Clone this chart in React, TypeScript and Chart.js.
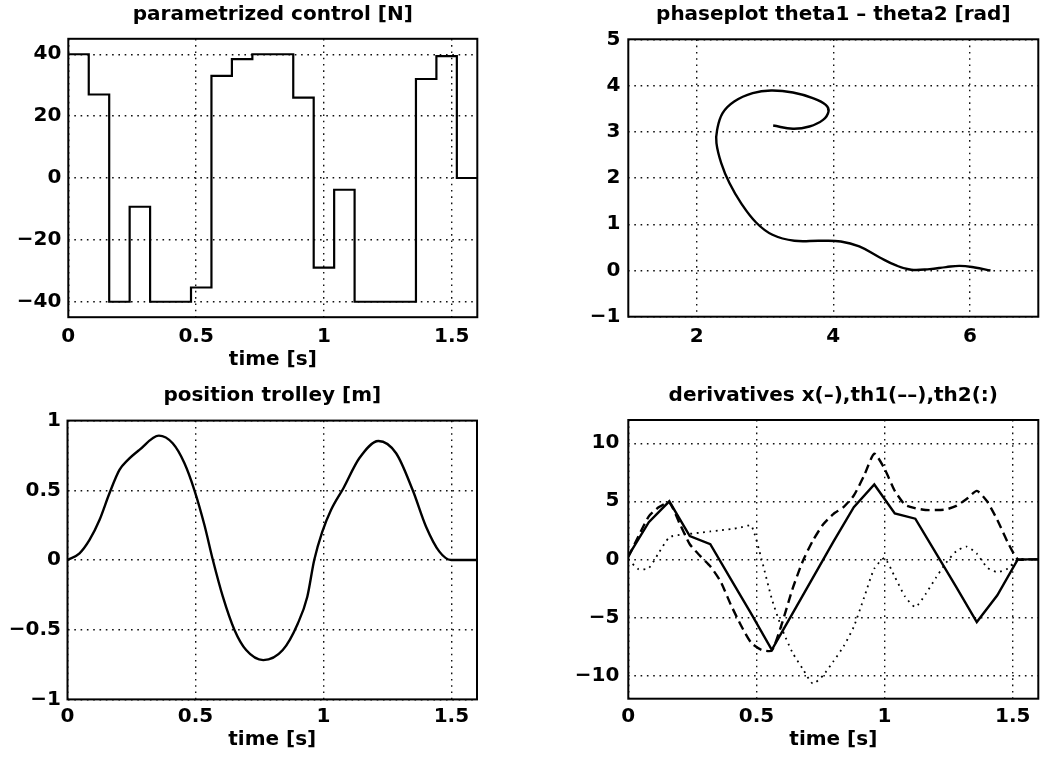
import { useEffect, useRef } from 'react';
import { Chart, registerables } from 'chart.js';

Chart.register(...registerables);

// ---------- data ----------
// panel 1: parametrized control [N] (piecewise constant, held from each time to the next)
const controlTimes = [0, 0.08, 0.16, 0.24, 0.32, 0.40, 0.48, 0.56, 0.64, 0.72, 0.80, 0.88, 0.96, 1.04, 1.12, 1.20, 1.28, 1.36, 1.44, 1.52, 1.60];
const controlValues = [40, 27, -40, -9.3, -40, -40, -35.4, 33, 38.4, 40, 40, 26, -29, -3.8, -40, -40, -40, 32, 39.4, 0, 0];

// panel 2: phaseplot theta1 - theta2 [rad]
const phaseTheta1 = [3.12, 3.41, 3.65, 3.85, 3.93, 3.89, 3.70, 3.41, 3.09, 2.82, 2.55, 2.38, 2.30, 2.29, 2.36, 2.48, 2.65, 2.87, 3.11, 3.43, 3.80, 4.11, 4.38, 4.68, 4.92, 5.14, 5.41, 5.65, 5.85, 6.07, 6.30];
const phaseTheta2 = [3.135, 3.064, 3.114, 3.258, 3.44, 3.583, 3.727, 3.849, 3.892, 3.835, 3.654, 3.403, 3.042, 2.754, 2.322, 1.89, 1.457, 1.038, 0.772, 0.642, 0.642, 0.627, 0.519, 0.281, 0.108, 0.015, 0.03, 0.073, 0.1, 0.065, 0];

// panel 3: position trolley [m]
const posTimes = [0, 0.047, 0.086, 0.125, 0.164, 0.203, 0.236, 0.281, 0.357, 0.411, 0.457, 0.496, 0.535, 0.568, 0.607, 0.652, 0.698, 0.765, 0.841, 0.9, 0.937, 0.964, 0.995, 1.03, 1.078, 1.14, 1.215, 1.284, 1.349, 1.401, 1.453, 1.499, 1.6];
const posValues = [0, 0.048, 0.144, 0.287, 0.479, 0.646, 0.718, 0.79, 0.892, 0.837, 0.694, 0.5, 0.251, 0, -0.263, -0.5, -0.646, -0.718, -0.646, -0.455, -0.263, 0, 0.2, 0.36, 0.515, 0.73, 0.854, 0.766, 0.5, 0.239, 0.06, 0, 0];

// panel 4: derivatives
const xdotTimes = [0, 0.08, 0.16, 0.24, 0.32, 0.40, 0.48, 0.56, 0.64, 0.72, 0.80, 0.88, 0.96, 1.04, 1.12, 1.20, 1.28, 1.36, 1.44, 1.52, 1.60];
const xdotValues = [0.3, 3.2, 5.0, 2.0, 1.3, -1.7, -4.7, -7.8, -4.7, -1.6, 1.5, 4.5, 6.45, 3.95, 3.5, 0.55, -2.4, -5.4, -3.1, 0, 0];
const thTimes = [0, 0.04, 0.08, 0.12, 0.16, 0.20, 0.24, 0.28, 0.32, 0.36, 0.40, 0.44, 0.48, 0.52, 0.56, 0.60, 0.64, 0.68, 0.72, 0.76, 0.80, 0.84, 0.88, 0.92, 0.96, 1.00, 1.04, 1.08, 1.12, 1.16, 1.20, 1.24, 1.28, 1.32, 1.36, 1.40, 1.44, 1.48, 1.52, 1.56, 1.60];
const th1dotValues = [0.2, 2.0, 3.7, 4.5, 4.9, 3.1, 1.3, 0.3, -0.6, -1.9, -3.9, -5.7, -7.2, -7.8, -7.85, -5.5, -2.6, -0.2, 1.6, 3.0, 3.9, 4.5, 5.5, 7.2, 9.1, 7.8, 5.9, 4.7, 4.4, 4.25, 4.25, 4.3, 4.6, 5.2, 5.9, 5.0, 3.4, 1.5, 0, 0, 0];
const th2dotValues = [0, -0.85, -0.75, 0.6, 1.9, 2.1, 2.2, 2.3, 2.4, 2.5, 2.6, 2.75, 2.9, 0.0, -3.4, -6.0, -8.0, -9.4, -10.7, -10.0, -8.8, -7.5, -5.8, -3.3, -0.8, 0.1, -1.5, -3.2, -4.1, -3.0, -1.6, -0.3, 0.7, 1.1, 0.5, -0.7, -1.1, -0.8, 0, 0, 0];

// tick values
const timeTicks = [0, 0.5, 1, 1.5];
const controlTicks = [-40, -20, 0, 20, 40];
const phaseXTicks = [2, 4, 6];
const phaseYTicks = [-1, 0, 1, 2, 3, 4, 5];
const posTicks = [-1, -0.5, 0, 0.5, 1];
const derivTicks = [-10, -5, 0, 5, 10];

// ---------- helpers ----------
const FONT = { family: "'DejaVu Sans', sans-serif", size: 20, weight: 'bold' as const };

const fmt = (v: number) => String(v).replace('-', '\u2212');

const pts = (xs: number[], ys: number[]) => xs.map((x, i) => ({ x, y: ys[i] }));

const framePlugin = {
  id: 'frame',
  afterDatasetsDraw(chart: any) {
    const { ctx, chartArea: a } = chart;
    ctx.save();
    ctx.strokeStyle = '#000';
    ctx.lineWidth = 2;
    ctx.strokeRect(a.left, a.top, a.right - a.left, a.bottom - a.top);
    ctx.restore();
  },
};

type Spec = {
  title: string;
  titlePad: [number, number];
  rightPad: number;
  yWidth: number;
  xHeight: number;
  xTickPad: number;
  yTickPad: number;
  xTitle?: string;
  xTitlePadBottom?: number;
  xMin: number; xMax: number; yMin: number; yMax: number;
  xTicks: number[]; yTicks: number[];
  datasets: any[];
};

function axis(min: number, max: number, ticks: number[], pad: number, fit: (s: any) => void, extra: any = {}) {
  return {
    type: 'linear',
    min, max,
    grid: { color: '#111', lineWidth: 1.4, drawTicks: false },
    border: { display: false, dash: [1.6, 4.7] },
    ticks: { color: '#000', font: FONT, padding: pad, autoSkip: false, maxRotation: 0, callback: (v: number) => fmt(v) },
    afterBuildTicks: (s: any) => { s.ticks = ticks.map((v) => ({ value: v })); },
    afterFit: fit,
    ...extra,
  };
}

function build(spec: Spec) {
  return {
    type: 'line',
    data: { datasets: spec.datasets },
    options: {
      responsive: false,
      animation: false,
      devicePixelRatio: 1,
      layout: { padding: { left: 0, right: spec.rightPad, top: 0, bottom: 0 } },
      elements: { point: { radius: 0 } },
      plugins: {
        legend: { display: false },
        tooltip: { enabled: false },
        title: {
          display: true,
          text: spec.title,
          color: '#000',
          font: FONT,
          fullSize: false,
          padding: { top: spec.titlePad[0], bottom: spec.titlePad[1] },
        },
      },
      scales: {
        x: axis(spec.xMin, spec.xMax, spec.xTicks, spec.xTickPad, (s: any) => { s.height = spec.xHeight; },
          spec.xTitle ? { title: { display: true, text: spec.xTitle, color: '#000', font: FONT, padding: { top: 0, bottom: spec.xTitlePadBottom } } } : {}),
        y: axis(spec.yMin, spec.yMax, spec.yTicks, spec.yTickPad, (s: any) => { s.width = spec.yWidth; }),
      },
    },
    plugins: [framePlugin],
  };
}

const line = (data: any[], extra: any = {}) => ({
  data,
  borderColor: '#000',
  borderWidth: 2.4,
  pointRadius: 0,
  fill: false,
  tension: 0,
  ...extra,
});

const specs: { left: number; top: number; spec: Spec }[] = [
  {
    left: 0, top: 0,
    spec: {
      title: 'parametrized control [N]', titlePad: [2.8, 12],
      rightPad: 42.7, yWidth: 68.3, xHeight: 62.8, xTickPad: 7.2, yTickPad: 7,
      xTitle: 'time [s]', xTitlePadBottom: 8.2,
      xMin: 0, xMax: 1.6, yMin: -45, yMax: 45, xTicks: timeTicks, yTicks: controlTicks,
      datasets: [line(pts(controlTimes, controlValues), { stepped: 'before', borderWidth: 2.2 })],
    },
  },
  {
    left: 520, top: 0,
    spec: {
      title: 'phaseplot theta1 \u2013 theta2 [rad]', titlePad: [2.8, 12.5],
      rightPad: 1.7, yWidth: 108.3, xHeight: 63.3, xTickPad: 7.7, yTickPad: 8,
      xMin: 1, xMax: 7, yMin: -1, yMax: 5, xTicks: phaseXTicks, yTicks: phaseYTicks,
      datasets: [line(pts(phaseTheta1, phaseTheta2), { tension: 0.4 })],
    },
  },
  {
    left: 0, top: 380,
    spec: {
      title: 'position trolley [m]', titlePad: [3.8, 12.8],
      rightPad: 43, yWidth: 67.5, xHeight: 60.6, xTickPad: 5, yTickPad: 6.5,
      xTitle: 'time [s]', xTitlePadBottom: 8.2,
      xMin: 0, xMax: 1.6, yMin: -1, yMax: 1, xTicks: timeTicks, yTicks: posTicks,
      datasets: [line(pts(posTimes, posValues), { cubicInterpolationMode: 'monotone' })],
    },
  },
  {
    left: 520, top: 380,
    spec: {
      title: 'derivatives x(\u2013),th1(\u2013\u2013),th2(:)', titlePad: [3.8, 12.2],
      rightPad: 1.7, yWidth: 108.3, xHeight: 61.3, xTickPad: 5.7, yTickPad: 9,
      xTitle: 'time [s]', xTitlePadBottom: 8.2,
      xMin: 0, xMax: 1.6, yMin: -12, yMax: 12, xTicks: timeTicks, yTicks: derivTicks,
      datasets: [
        line(pts(xdotTimes, xdotValues)),
        line(pts(thTimes, th1dotValues), { borderDash: [9, 5], tension: 0.2 }),
        line(pts(thTimes, th2dotValues), { borderDash: [1.8, 4.6], borderWidth: 1.8, tension: 0.2 }),
      ],
    },
  },
];

function Panel({ left, top, spec }: { left: number; top: number; spec: Spec }) {
  const ref = useRef<HTMLCanvasElement>(null);
  useEffect(() => {
    const chart = new Chart(ref.current as HTMLCanvasElement, build(spec) as any);
    return () => chart.destroy();
  }, []);
  return (
    <canvas
      ref={ref}
      width={520}
      height={380}
      style={{ position: 'absolute', left, top, width: 520, height: 380 }}
    />
  );
}

export default function App() {
  return (
    <div style={{ position: 'absolute', left: 0, top: 0, width: 1040, height: 761, background: '#fff' }}>
      {specs.map((p, i) => (
        <Panel key={i} left={p.left} top={p.top} spec={p.spec} />
      ))}
    </div>
  );
}
